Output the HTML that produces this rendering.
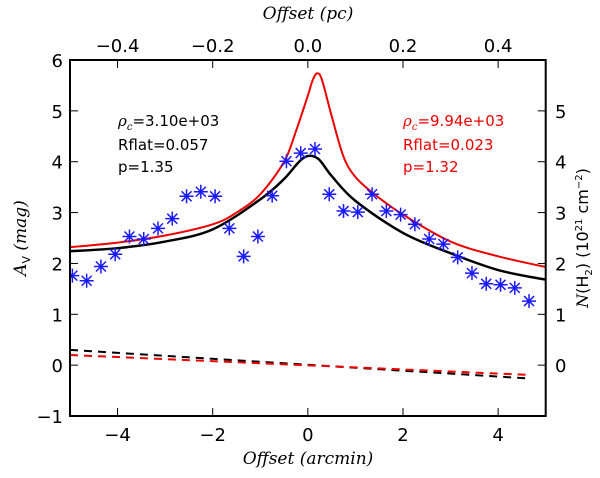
<!DOCTYPE html>
<html><head><meta charset="utf-8"><style>
body{margin:0;background:#fff;width:600px;height:473px;overflow:hidden}
svg text{font-family:"DejaVu Sans","Liberation Sans",sans-serif}
svg text.ser, svg tspan.ser{font-family:"DejaVu Serif","Liberation Serif",serif;font-style:italic}
</style></head><body>
<svg id="chart" width="600" height="473" viewBox="0 0 600 473" xmlns="http://www.w3.org/2000/svg">
<g id="marks"></g>
<rect x="70" y="60" width="475.7" height="356" fill="none" stroke="#000" stroke-width="2"/>
<g id="axes"></g>
<text x="118" y="126" font-size="15" fill="#000"><tspan class="ser">ρ</tspan><tspan class="ser" font-size="10" dy="4">c</tspan><tspan dy="-4">=3.10e+03</tspan></text>
<text x="118" y="150" font-size="15" fill="#000">Rflat=0.057</text>
<text x="118" y="172" font-size="15" fill="#000">p=1.35</text>
<text x="403" y="126" font-size="15" fill="#e00"><tspan class="ser">ρ</tspan><tspan class="ser" font-size="10" dy="4">c</tspan><tspan dy="-4">=9.94e+03</tspan></text>
<text x="403" y="150" font-size="15" fill="#e00">Rflat=0.023</text>
<text x="403" y="172" font-size="15" fill="#e00">p=1.32</text>
<text class="ser" x="308" y="464" font-size="17" text-anchor="middle">Offset (arcmin)</text>
<text class="ser" x="308" y="19" font-size="17" text-anchor="middle">Offset (pc)</text>
<text transform="translate(26,238) rotate(-90)" font-size="17" text-anchor="middle"><tspan class="ser">A</tspan><tspan font-size="11" dy="4">V</tspan><tspan class="ser" dy="-4"> (mag)</tspan></text>
<text transform="translate(588,238) rotate(-90)" font-size="16" text-anchor="middle"><tspan class="ser">N</tspan>(H<tspan font-size="10" dy="4">2</tspan><tspan dy="-4">) (10</tspan><tspan font-size="10" dy="-6">21</tspan><tspan dy="6"> cm</tspan><tspan font-size="10" dy="-6">−2</tspan><tspan dy="6">)</tspan></text>
</svg>
<script>
const obsX=[-4.95,-4.65,-4.35,-4.05,-3.75,-3.45,-3.15,-2.85,-2.55,-2.25,-1.95,-1.65,-1.35,-1.05,-0.75,-0.45,-0.15,0.15,0.45,0.75,1.05,1.35,1.65,1.95,2.25,2.55,2.85,3.15,3.45,3.75,4.05,4.35,4.65];
const obsAv=[1.76,1.66,1.94,2.18,2.53,2.48,2.69,2.88,3.32,3.41,3.32,2.69,2.14,2.53,3.33,4.01,4.17,4.25,3.36,3.03,3.01,3.36,3.03,2.96,2.77,2.48,2.38,2.12,1.81,1.60,1.58,1.52,1.26];
const redX=[-5,-4,-3,-2,-1.5,-1,-0.5,-0.25,0,0.1,0.2,0.3,0.5,0.75,1,1.4,2,3,4,5];
const redAv=[2.32,2.41,2.55,2.77,3.0,3.36,4.0,4.6,5.3,5.6,5.74,5.6,4.9,4.1,3.7,3.36,2.96,2.43,2.14,1.93];
const blkX=[-5,-4,-3,-2,-1,-0.5,-0.1,0.2,0.5,1,2,3,4,5];
const blkAv=[2.24,2.30,2.43,2.67,3.26,3.66,4.07,4.07,3.72,3.23,2.6,2.2,1.87,1.68];
const bgX=[-5,4.6];
const bgBlack=[0.3,-0.26];
const bgRed=[0.2,-0.19];
const xTicks=[-4,-2,0,2,4];
const yTicks=[-1,0,1,2,3,4,5,6];
const rTicks=[0,1,2,3,4,5];
const pcTicks=[-0.4,-0.2,0.0,0.2,0.4];
const pcLabels=["−0.4","−0.2","0.0","0.2","0.4"];

const X=v=>70+(v+5)*47.57;
const Y=v=>60+(6-v)*50.86;
const NS="http://www.w3.org/2000/svg";
const marks=document.getElementById('marks'), axes=document.getElementById('axes');
function mk(t,p,a){const e=document.createElementNS(NS,t);for(const k in a)e.setAttribute(k,a[k]);p.appendChild(e);return e;}
function smooth(xs,ys){const P=xs.map((x,i)=>[X(x),Y(ys[i])]);let d=`M${P[0][0]},${P[0][1]}`;
for(let i=0;i<P.length-1;i++){const p0=P[i-1]||P[i],p1=P[i],p2=P[i+1],p3=P[i+2]||P[i+1];
d+=`C${p1[0]+(p2[0]-p0[0])/6},${p1[1]+(p2[1]-p0[1])/6} ${p2[0]-(p3[0]-p1[0])/6},${p2[1]-(p3[1]-p1[1])/6} ${p2[0]},${p2[1]}`;}return d;}
const clip=mk('clipPath',marks,{id:'pc'});mk('rect',clip,{x:70,y:60,width:475.7,height:356});
const g=mk('g',marks,{'clip-path':'url(#pc)'});
let e;
e=mk('line',g,{x1:X(bgX[0]),y1:Y(bgBlack[0]),x2:X(bgX[1]),y2:Y(bgBlack[1]),stroke:'#000','stroke-width':2,'stroke-dasharray':'8,6'});


e=mk('line',g,{x1:X(bgX[0]),y1:Y(bgRed[0]),x2:X(bgX[1]),y2:Y(bgRed[1]),stroke:'#e00','stroke-width':2,'stroke-dasharray':'8,6'});


e=mk('path',g,{d:smooth(blkX,blkAv),fill:'none',stroke:'#000','stroke-width':2.5});


e=mk('path',g,{d:smooth(redX,redAv),fill:'none',stroke:'#e00','stroke-width':2});


obsX.forEach((x,i)=>{const cx=X(x),cy=Y(obsAv[i]),r=7;
const s=mk('path',g,{d:`M${cx-r},${cy}H${cx+r}M${cx},${cy-r}V${cy+r}M${cx-5},${cy-5}L${cx+5},${cy+5}M${cx-5},${cy+5}L${cx+5},${cy-5}`,stroke:'#1a1aff','stroke-width':1.5,fill:'none'});

});
xTicks.forEach(v=>{const x=X(v);mk('line',axes,{x1:x,y1:416,x2:x,y2:408,stroke:'#000','stroke-width':1});
const t=mk('text',axes,{x:x,y:441,'font-size':18,'text-anchor':'middle'});t.textContent=v<0?'−'+(-v):''+v;

});
pcTicks.forEach((v,i)=>{const x=X(v*10);mk('line',axes,{x1:x,y1:60,x2:x,y2:68,stroke:'#000','stroke-width':1});
const t=mk('text',axes,{x:x,y:52,'font-size':18,'text-anchor':'middle'});t.textContent=pcLabels[i];

});
yTicks.forEach(v=>{const y=Y(v);mk('line',axes,{x1:70,y1:y,x2:78,y2:y,stroke:'#000','stroke-width':1});
const t=mk('text',axes,{x:63,y:y+7,'font-size':18,'text-anchor':'end'});t.textContent=v<0?'−'+(-v):''+v;

});
rTicks.forEach(v=>{const y=Y(v);mk('line',axes,{x1:545.7,y1:y,x2:537.7,y2:y,stroke:'#000','stroke-width':1});
const t=mk('text',axes,{x:555,y:y+7,'font-size':18});t.textContent=''+v;

});
</script>
</body></html>
